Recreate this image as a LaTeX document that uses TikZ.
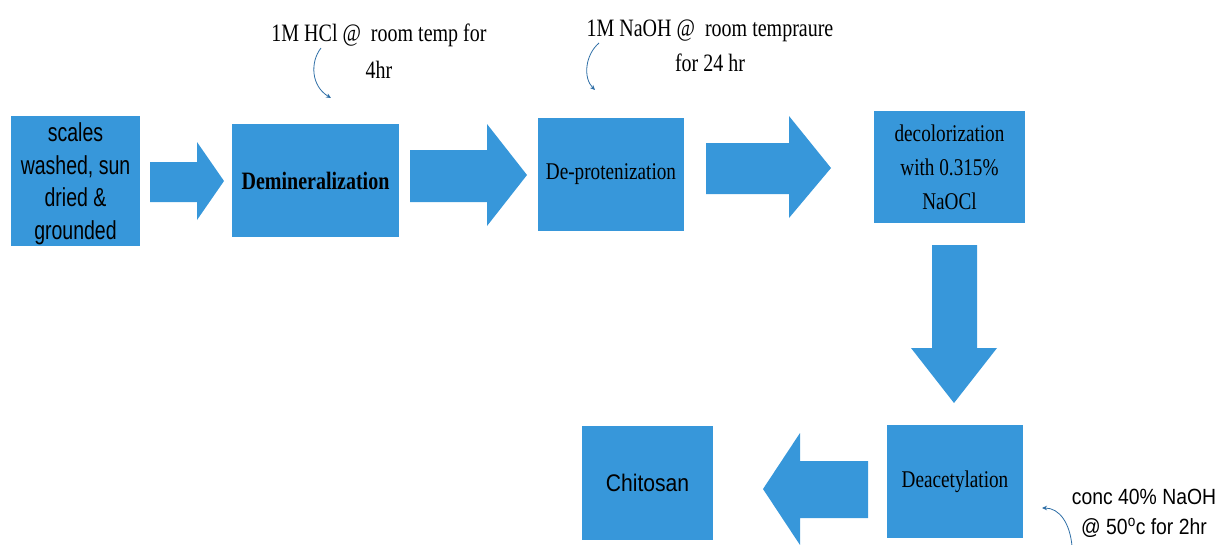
\documentclass[tikz,border=0pt]{standalone}
\usepackage{fontspec}
\setmainfont{Liberation Serif}
\newfontfamily\serifc[FakeStretch=0.8]{Liberation Serif}
\newfontfamily\notefont[FakeStretch=0.8]{Liberation Serif}
\newfontfamily\sansc[FakeStretch=0.88]{Liberation Sans}
\newfontfamily\sansn[FakeStretch=0.75]{Liberation Sans}
\usetikzlibrary{arrows.meta}
\definecolor{boxblue}{HTML}{3797DA}
\definecolor{curveblue}{HTML}{2E6EA6}
\begin{document}
\begin{tikzpicture}[x=1pt,y=-1pt,
  box/.style={fill=boxblue, draw=none, inner sep=0pt, align=center},
  blockarrow/.style={fill=boxblue, draw=none},
  note/.style={align=center, inner sep=0pt},
  curve/.style={draw=curveblue, line width=0.8pt, -{Stealth[length=5pt,width=4.5pt]}}]
\useasboundingbox (0,0) rectangle (1221,544);

% process boxes
\node[box, minimum width=129pt, minimum height=130pt] (b1) at (75.5,181) {};
\node[align=center, inner sep=0pt, font={\sansn\fontsize{26}{32.5}\selectfont}] (t1) at (75.5,184)
  {scales\\washed, sun\\dried \&\\grounded};
\node[box, minimum width=167pt, minimum height=113pt, font={\serifc\fontsize{25}{30}\selectfont\bfseries}] (b2) at (315.5,180.5)
  {Demineralization};
\node[box, minimum width=146pt, minimum height=113pt, font={\serifc\fontsize{24}{30}\selectfont}] (b3) at (611,174.5)
  {De-protenization};
\node[box, minimum width=151pt, minimum height=112pt, font={\serifc\fontsize{24}{34}\selectfont}] (b4) at (949.5,167)
  {decolorization\\with 0.315\%\\NaOCl};
\node[box, minimum width=136pt, minimum height=113pt, font={\serifc\fontsize{24}{30}\selectfont}] (b5) at (955,481.5)
  {Deacetylation};
\node[box, minimum width=131pt, minimum height=114pt, font={\sansc\fontsize{24}{30}\selectfont}] (b6) at (647.5,483)
  {Chitosan};

% block arrows
\fill[blockarrow] (150,162) -- (197,162) -- (197,142) -- (224,181) -- (197,220) -- (197,202) -- (150,202) -- cycle;
\fill[blockarrow] (410,150) -- (487,150) -- (487,124) -- (527,175) -- (487,226) -- (487,202) -- (410,202) -- cycle;
\fill[blockarrow] (706,143) -- (789,143) -- (789,116) -- (831,168) -- (789,218) -- (789,194) -- (706,194) -- cycle;
\fill[blockarrow] (932,245) -- (977,245) -- (977,348) -- (997,348) -- (954,403) -- (911,348) -- (932,348) -- cycle;
\fill[blockarrow] (868,461) -- (800,461) -- (800,433) -- (763,489) -- (800,545) -- (800,518) -- (868,518) -- cycle;

% condition notes
\node[note, font={\notefont\fontsize{25}{37}\selectfont}] (n1) at (379,51)
  {1M HCl @ \ room temp for\\4hr};
\node[note, font={\notefont\fontsize{25}{35}\selectfont}] (n2) at (710,46)
  {1M NaOH @ \ room tempraure\\for 24 hr};
\node[note, font={\sansc\fontsize{22}{30}\selectfont}] (n3) at (1144,513)
  {conc 40\% NaOH\\@ 50\textsuperscript{o}c for 2hr};

% curved pointers
\coordinate (c1s) at (321,48);
\coordinate (c1e) at (331,98);
\coordinate (c2s) at (599,43);
\coordinate (c2e) at (595,90);
\coordinate (c3s) at (1072,546);
\coordinate (c3e) at (1042,508);
\draw[curve] (c1s) .. controls (310,62) and (311,86) .. (c1e);
\draw[curve] (c2s) .. controls (585,55) and (583,78) .. (c2e);
\draw[curve] (c3s) .. controls (1070,524) and (1060,508) .. (c3e);
\end{tikzpicture}
\end{document}
